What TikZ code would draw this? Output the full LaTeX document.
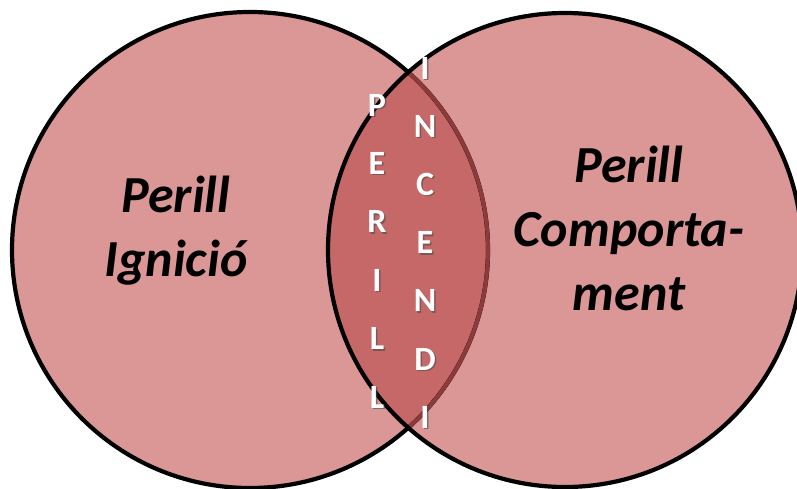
\documentclass[tikz,border=0pt]{standalone}
\usepackage{fontspec}
\setmainfont{Carlito}
\definecolor{lightred}{RGB}{219,150,150}
\definecolor{lensred}{RGB}{198,104,104}
\definecolor{arcred}{RGB}{140,58,58}
\tikzset{
    bigtext/.style={font=\bfseries\itshape\fontsize{52}{64}\selectfont, align=center, inner sep=0pt},
    letter/.style={font=\bfseries\fontsize{34}{34}\selectfont, text=white, inner sep=0pt},
    lettershadow/.style={letter, text=black!70, opacity=0.6}
}
\begin{document}
\begin{tikzpicture}[x=1pt, y=1pt]
    \clip (0,0) rectangle (797,488);

    % Circles
    \fill[lightred] (250,238) circle (238);
    \fill[lightred] (565,238) circle (237);

    % Overlap
    \begin{scope}
        \clip (250,238) circle (238);
        \fill[lensred] (565,238) circle (237);
    \end{scope}

    % Outlines
    \draw[line width=4.2pt] (250,238) circle (238);
    \begin{scope}
        \clip (565,238) circle (237);
        \draw[arcred, line width=4pt] (250,238) circle (238);
    \end{scope}
    \draw[line width=4.2pt] (565,238) circle (237);

    % Labels
    \node[bigtext] (ignicio) at (176,257) {Perill\\Ignició};
    \node[bigtext] (comportament) at (629,260) {Perill\\Comporta-\\ment};

    % Vertical words
    \foreach \c [count=\i] in {P,E,R,I,L,L} {
        \node[lettershadow] (ps\i) at (378.5,488-105-58.4*\i+58.4-1.5) {\c};
        \node[letter] (p\i) at (377,488-105-58.4*\i+58.4) {\c};
    }
    \foreach \c [count=\i] in {I,N,C,E,N,D,I} {
        \node[lettershadow] (is\i) at (426.5,488-68-58.2*\i+58.2-1.5) {\c};
        \node[letter] (i\i) at (425,488-68-58.2*\i+58.2) {\c};
    }

\end{tikzpicture}
\end{document}
